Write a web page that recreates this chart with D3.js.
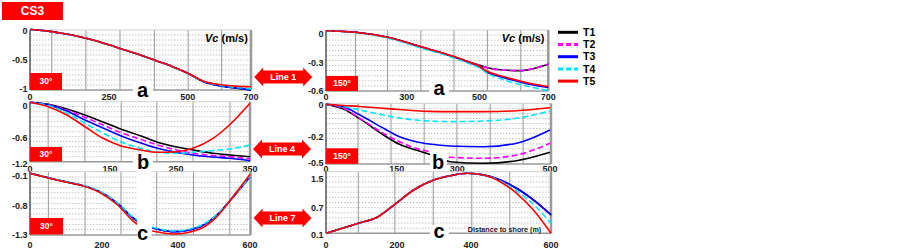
<!DOCTYPE html>
<html lang="en">
<head>
<meta charset="UTF-8" />
<title>CS3 - Vc along Line 1, Line 4, Line 7</title>
<script src="https://d3js.org/d3.v7.min.js"></script>
<style>
    body { margin: 0; background: #fff; font-family: Arial, "Liberation Sans", sans-serif; }
    .tick-label { font-size: 9px; font-weight: bold; fill: #222; }
    .legend-label { font-size: 10.5px; font-weight: bold; fill: #000; }
    .panel-letter { font-size: 20px; font-weight: bold; fill: #000; text-anchor: middle; }
    .tag-text { font-weight: bold; fill: #fff; text-anchor: middle; }
</style>
</head>
<body>
<svg id="chart"></svg>
<script>
// ---------- data ----------
const seriesNames = ["T1", "T2", "T3", "T4", "T5"];

// row a, 30 deg
const xA30 = [0, 50, 100, 150, 200, 250, 300, 350, 400, 450, 500, 550, 600, 650, 700];
const a30T1 = [0.026, 0.002, -0.04, -0.09, -0.154, -0.237, -0.326, -0.41, -0.51, -0.607, -0.724, -0.871, -0.94, -0.978, -1.012];
const a30T2 = [0.026, 0.002, -0.04, -0.09, -0.154, -0.237, -0.326, -0.41, -0.51, -0.607, -0.724, -0.866, -0.931, -0.966, -0.995];
const a30T3 = [0.026, 0.002, -0.04, -0.09, -0.154, -0.237, -0.326, -0.41, -0.51, -0.607, -0.724, -0.87, -0.938, -0.976, -1.01];
const a30T4 = [0.026, 0.002, -0.04, -0.09, -0.154, -0.237, -0.326, -0.41, -0.51, -0.607, -0.724, -0.866, -0.93, -0.965, -0.993];
const a30T5 = [0.026, 0.002, -0.04, -0.09, -0.154, -0.237, -0.326, -0.41, -0.51, -0.607, -0.724, -0.861, -0.919, -0.945, -0.955];

// row a, 150 deg
const xA150 = [0, 110, 229, 339, 430, 474, 501, 521, 569, 618, 656, 700];
const a150T1 = [0.035, 0.018, -0.035, -0.134, -0.239, -0.298, -0.33, -0.353, -0.379, -0.386, -0.365, -0.319];
const a150T2 = [0.035, 0.018, -0.035, -0.134, -0.239, -0.298, -0.332, -0.355, -0.38, -0.386, -0.364, -0.316];
const a150T3 = [0.035, 0.018, -0.035, -0.137, -0.242, -0.305, -0.347, -0.398, -0.458, -0.505, -0.537, -0.563];
const a150T4 = [0.035, 0.016, -0.042, -0.147, -0.253, -0.316, -0.358, -0.41, -0.479, -0.532, -0.563, -0.595];
const a150T5 = [0.035, 0.018, -0.035, -0.134, -0.237, -0.3, -0.342, -0.39, -0.447, -0.495, -0.527, -0.553];

// row b, 30 deg
const xB30 = [0, 34, 69, 103, 137, 166, 197, 222, 251, 273, 300, 323, 350];
const b30T1 = [0.069, 0.032, -0.056, -0.167, -0.297, -0.427, -0.557, -0.693, -0.803, -0.873, -0.95, -0.99, -1.03];
const b30T2 = [0.069, 0.024, -0.074, -0.21, -0.353, -0.49, -0.628, -0.756, -0.873, -0.95, -1.0, -1.03, -1.083];
const b30T3 = [0.069, 0.019, -0.093, -0.26, -0.409, -0.552, -0.71, -0.834, -0.932, -0.99, -1.037, -1.067, -1.123];
const b30T4 = [0.069, 0.009, -0.13, -0.32, -0.502, -0.68, -0.834, -0.927, -0.95, -0.927, -0.885, -0.85, -0.756];
const b30T5 = [0.069, -0.013, -0.167, -0.385, -0.6, -0.773, -0.873, -0.927, -0.913, -0.834, -0.6, -0.343, 0.05];

// row b, 150 deg
const xB150 = [0, 37, 72, 122, 157, 198, 231, 282, 356, 428, 500];
const b150T1 = [0.004, -0.025, -0.088, -0.189, -0.286, -0.35, -0.399, -0.482, -0.5, -0.471, -0.376];
const b150T2 = [0.004, -0.021, -0.084, -0.179, -0.256, -0.331, -0.369, -0.432, -0.443, -0.406, -0.274];
const b150T3 = [0.004, -0.011, -0.063, -0.147, -0.2, -0.256, -0.282, -0.305, -0.313, -0.274, -0.158];
const b150T4 = [0.004, -0.009, -0.032, -0.063, -0.082, -0.095, -0.101, -0.105, -0.101, -0.084, -0.038];
const b150T5 = [0.004, -0.003, -0.009, -0.021, -0.028, -0.036, -0.04, -0.042, -0.042, -0.036, -0.017];

// row c, 30 deg (null = break between the two halves)
const xC30 = [0, 56, 102, 148, 194, 241, 286, 295, 313, 332, 389, 461, 508, 554, 600];
const c30T1 = [-0.038, -0.153, -0.239, -0.324, -0.463, -0.731, -1.026, -1.065, null, -1.173, -1.242, -1.155, -0.952, -0.578, -0.116];
const c30T2 = [-0.038, -0.153, -0.239, -0.324, -0.463, -0.731, -1.026, -1.065, null, -1.173, -1.242, -1.155, -0.952, -0.578, -0.116];
const c30T3 = [-0.038, -0.153, -0.239, -0.324, -0.463, -0.731, -1.026, -1.065, null, -1.173, -1.242, -1.155, -0.952, -0.578, -0.116];
const c30T4 = [-0.038, -0.15, -0.235, -0.318, -0.455, -0.72, -1.012, -1.05, null, -1.16, -1.23, -1.14, -0.94, -0.57, -0.11];
const c30T5 = [-0.038, -0.158, -0.246, -0.331, -0.481, -0.77, -1.082, -1.126, null, -1.23, -1.283, -1.195, -0.981, -0.562, -0.061];

// row c, 150 deg
const xC150 = [0, 91, 147, 194, 245, 299, 345, 390, 431, 473, 514, 556, 600];
const c150T1 = [0.137, 0.357, 0.502, 0.795, 1.193, 1.472, 1.592, 1.659, 1.615, 1.472, 1.241, 0.915, 0.54];
const c150T2 = [0.137, 0.357, 0.502, 0.795, 1.193, 1.472, 1.592, 1.659, 1.615, 1.472, 1.241, 0.915, 0.54];
const c150T3 = [0.137, 0.357, 0.502, 0.795, 1.193, 1.472, 1.592, 1.659, 1.615, 1.472, 1.241, 0.915, 0.54];
const c150T4 = [0.137, 0.357, 0.502, 0.795, 1.193, 1.472, 1.592, 1.659, 1.613, 1.444, 1.166, 0.795, 0.357];
const c150T5 = [0.137, 0.357, 0.502, 0.795, 1.193, 1.472, 1.592, 1.659, 1.611, 1.425, 1.101, 0.649, 0.137];

// tick labels
const xTicksA30 = [0, 250, 500, 700];
const xTicksA150 = [0, 300, 500, 700];
const xTicksB30 = [0, 150, 250, 350];
const xTicksB150 = [0, 150, 300, 500];
const xTicksC = [0, 200, 400, 600];
const yTicksA30 = [0, -0.5, -1];
const yTicksA150 = [0, -0.3, -0.6];
const yTicksB30 = [0, -0.6, -1.2];
const yTicksB150 = [0, -0.2, -0.5];
const yTicksC30 = [-0.1, -0.8, -1.3];
const yTicksC150 = [1.5, 0.7, 0.1];

// vertical grid lines (distance, m)
const gridA30 = [69, 177, 285, 394, 501, 607];
const gridA150 = [110, 229, 339, 430, 523, 620];
const gridB30 = [34, 103, 167, 221, 273, 323];
const gridB150 = [68, 138, 218, 299, 371, 442];
const gridC30 = [51, 153, 250, 344, 443, 544];
const gridC150 = [91, 194, 298, 402, 497];

const lineNames = ["Line 1", "Line 4", "Line 7"];

// ---------- styles ----------
const seriesStyle = [
    { color: "#000000", dash: null },
    { color: "#ff00ff", dash: "6,3" },
    { color: "#0000ff", dash: null },
    { color: "#00e5ff", dash: "6,3" },
    { color: "#ff0000", dash: null }
];
const red = "#ff0000";

const svg = d3.select("#chart").attr("width", 903).attr("height", 250);

// layout of the six panels (pixel boxes are layout, not data)
const panels = [
    { box: [30, 30, 251, 90], xDom: [0, 700], xRange: [30, 251], xTicks: xTicksA30,
      yDom: [0, -1], yRange: [31, 89.3], yTicks: yTicksA30, xLabelY: 96.5,
      grid: gridA30, xs: xA30, ys: [a30T1, a30T2, a30T3, a30T4, a30T5],
      letter: "a", letterAt: [142.5, 97], letterBox: [133, 82, 20, 18],
      angle: "30°", angleBox: [30, 73, 32, 17] },
    { box: [326, 30, 548.3, 91], xDom: xTicksA150, xRange: [326, 406.7, 479.5, 548.3], xTicks: xTicksA150,
      yDom: [0, -0.6], yRange: [34, 91], yTicks: yTicksA150, xLabelY: 96.5,
      grid: gridA150, xs: xA150, ys: [a150T1, a150T2, a150T3, a150T4, a150T5],
      letter: "a", letterAt: [439, 95], letterBox: [429, 80, 20, 18],
      angle: "150°", angleBox: [326, 76, 32, 15] },
    { box: [30, 101.7, 250, 161.7], xDom: xTicksB30, xRange: [30, 110, 176, 250], xTicks: xTicksB30,
      yDom: yTicksB30, yRange: [106, 138.3, 164], yTicks: yTicksB30, xLabelY: 168.5,
      grid: gridB30, xs: xB30, ys: [b30T1, b30T2, b30T3, b30T4, b30T5],
      letter: "b", letterAt: [143, 168.5], letterBox: [133, 154, 20, 17],
      angle: "30°", angleBox: [30, 147, 32, 14.5] },
    { box: [326, 103.3, 551, 164], xDom: xTicksB150, xRange: [326, 396.7, 457.3, 550], xTicks: xTicksB150,
      yDom: yTicksB150, yRange: [105, 136.7, 163.3], yTicks: yTicksB150, xLabelY: 168.5,
      grid: gridB150, xs: xB150, ys: [b150T1, b150T2, b150T3, b150T4, b150T5],
      letter: "b", letterAt: [438, 168.5], letterBox: [430, 149, 17, 21],
      angle: "150°", angleBox: [326, 148.3, 32, 15.5] },
    { box: [30, 171.7, 250.5, 235], xDom: xTicksC, xRange: [30, 102, 178, 250], xTicks: xTicksC,
      yDom: yTicksC30, yRange: [176, 206.3, 235], yTicks: yTicksC30, xLabelY: 245,
      grid: gridC30, xs: xC30, ys: [c30T1, c30T2, c30T3, c30T4, c30T5],
      letter: "c", letterAt: [142.5, 240], letterBox: [137, 170, 14.5, 72],
      angle: "30°", angleBox: [30, 218, 33, 16.5] },
    { box: [326, 171.7, 551, 233.3], xDom: xTicksC, xRange: [326, 397, 471, 551], xTicks: xTicksC,
      yDom: yTicksC150, yRange: [179, 207.7, 235], yTicks: yTicksC150, xLabelY: 245,
      grid: gridC150, xs: xC150, ys: [c150T1, c150T2, c150T3, c150T4, c150T5],
      letter: "c", letterAt: [439, 238], letterBox: [430, 225, 19, 16],
      angle: null }
];

function drawPanel(p) {
    const [x0, y0, x1, y1] = p.box;
    const x = d3.scaleLinear().domain(p.xDom).range(p.xRange);
    const y = d3.scaleLinear().domain(p.yDom).range(p.yRange);
    const g = svg.append("g");

    // dotted horizontal grid
    const hLines = d3.range(1, 12).map(i => y0 + (y1 - y0) * i / 12);
    g.selectAll(".hgrid").data(hLines).join("line")
        .attr("x1", x0).attr("x2", x1).attr("y1", d => d).attr("y2", d => d)
        .attr("stroke", "#b5b5b5").attr("stroke-width", 0.8).attr("stroke-dasharray", "1.5,1.5");

    // solid vertical grid
    g.selectAll(".vgrid").data(p.grid).join("line")
        .attr("x1", d => x(d)).attr("x2", d => x(d)).attr("y1", y0).attr("y2", y1)
        .attr("stroke", "#9a9a9a").attr("stroke-width", 1);

    // frame
    g.append("line").attr("x1", x0).attr("x2", x1).attr("y1", y0).attr("y2", y0)
        .attr("stroke", "#cfcfcf").attr("stroke-width", 1);
    g.append("line").attr("x1", x0).attr("x2", x1).attr("y1", y1).attr("y2", y1)
        .attr("stroke", "#9a9a9a").attr("stroke-width", 1.5);
    g.append("line").attr("x1", x1).attr("x2", x1).attr("y1", y0).attr("y2", y1)
        .attr("stroke", "#9a9a9a").attr("stroke-width", 2.5);
    g.append("line").attr("x1", x0).attr("x2", x0).attr("y1", y0).attr("y2", y1)
        .attr("stroke", "#555").attr("stroke-width", 1.5);

    // curves
    const line = d3.line()
        .defined(d => d[1] != null)
        .x(d => x(d[0])).y(d => y(d[1]))
        .curve(d3.curveMonotoneX);
    p.ys.forEach((vals, i) => {
        g.append("path")
            .datum(p.xs.map((xv, k) => [xv, vals[k]]))
            .attr("d", line)
            .attr("fill", "none")
            .attr("stroke", seriesStyle[i].color)
            .attr("stroke-width", 1.6)
            .attr("stroke-dasharray", seriesStyle[i].dash);
    });

    // white patch with panel letter
    const [bx, by, bw, bh] = p.letterBox;
    g.append("rect").attr("x", bx).attr("y", by).attr("width", bw).attr("height", bh).attr("fill", "#fff");
    g.append("text").attr("class", "panel-letter")
        .attr("x", p.letterAt[0]).attr("y", p.letterAt[1]).text(p.letter);

    // tick labels
    g.selectAll(".ylab").data(p.yTicks).join("text")
        .attr("class", "tick-label")
        .attr("x", x0 - 2.5).attr("y", d => y(d)).attr("dy", "0.35em")
        .attr("text-anchor", "end")
        .text(d => d);
    g.selectAll(".xlab").data(p.xTicks).join("text")
        .attr("class", "tick-label")
        .attr("x", d => x(d)).attr("y", p.xLabelY).attr("dy", "0.35em")
        .attr("text-anchor", "middle")
        .text(d => d);

    // angle tag
    if (p.angle) {
        const [ax, ay, aw, ah] = p.angleBox;
        g.append("rect").attr("x", ax).attr("y", ay).attr("width", aw).attr("height", ah).attr("fill", red);
        g.append("text").attr("class", "tag-text").style("font-size", "8.5px")
            .attr("x", ax + aw / 2).attr("y", ay + ah / 2).attr("dy", "0.35em").text(p.angle);
    }
}

panels.forEach(drawPanel);

// Vc (m/s) titles
[205, 501.7].forEach(tx => {
    const t = svg.append("text").attr("x", tx).attr("y", 42)
        .style("font-size", "11px").style("font-weight", "bold");
    t.append("tspan").style("font-style", "italic").text("Vc");
    t.append("tspan").text(" (m/s)");
});

// distance label in the last panel
svg.append("text").attr("x", 504.5).attr("y", 231.5)
    .attr("text-anchor", "middle")
    .style("font-size", "7.2px").style("font-weight", "bold").style("fill", "#222")
    .text("Distance to shore (m)");

// CS3 tag
svg.append("rect").attr("x", 2).attr("y", 2).attr("width", 61).attr("height", 18).attr("fill", red);
svg.append("text").attr("class", "tag-text").style("font-size", "12px")
    .attr("x", 32.5).attr("y", 11).attr("dy", "0.36em").text("CS3");

// double-headed "Line" arrows between the columns
const arrowCenters = [[283.2, 77], [282, 149], [282.5, 218]];
function arrowPath(cx, cy) {
    const L = 29, h = 9, bh = 6.5, hh = 9.5;
    const p = d3.path();
    p.moveTo(cx - L, cy);
    p.lineTo(cx - L + h, cy - hh);
    p.lineTo(cx - L + h, cy - bh);
    p.lineTo(cx + L - h, cy - bh);
    p.lineTo(cx + L - h, cy - hh);
    p.lineTo(cx + L, cy);
    p.lineTo(cx + L - h, cy + hh);
    p.lineTo(cx + L - h, cy + bh);
    p.lineTo(cx - L + h, cy + bh);
    p.lineTo(cx - L + h, cy + hh);
    p.closePath();
    return p.toString();
}
lineNames.forEach((name, i) => {
    const [cx, cy] = arrowCenters[i];
    svg.append("path").attr("d", arrowPath(cx, cy)).attr("fill", red);
    svg.append("text").attr("class", "tag-text").style("font-size", "9px")
        .attr("x", cx).attr("y", cy).attr("dy", "0.35em").text(name);
});

// legend
const legend = svg.append("g").attr("transform", "translate(558,32.3)");
seriesNames.forEach((name, i) => {
    const row = legend.append("g").attr("transform", `translate(0,${i * 12.2})`);
    row.append("line").attr("x1", 0).attr("x2", 20).attr("y1", 0).attr("y2", 0)
        .attr("stroke", seriesStyle[i].color).attr("stroke-width", 3)
        .attr("stroke-dasharray", seriesStyle[i].dash ? "5,3" : null);
    row.append("text").attr("class", "legend-label")
        .attr("x", 25).attr("y", 0).attr("dy", "0.36em").text(name);
});
</script>
</body>
</html>
